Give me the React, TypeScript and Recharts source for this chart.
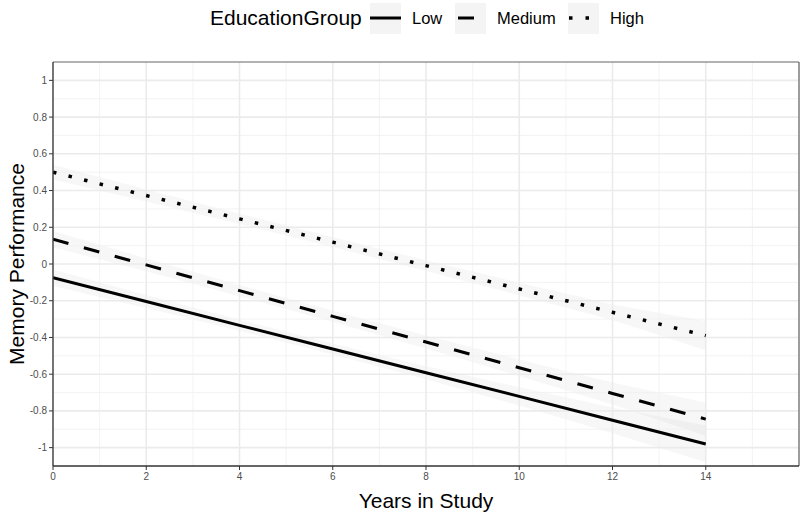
import {
  Area,
  ComposedChart,
  Line,
  ReferenceLine,
  XAxis,
  YAxis,
} from 'recharts';

// values (fitted lines + confidence ribbons)
const years = [0, 2, 4, 6, 8, 10, 12, 14];

const lowFit = [-0.075, -0.204, -0.334, -0.463, -0.592, -0.721, -0.851, -0.98];
const lowLower = [-0.12, -0.24, -0.364, -0.493, -0.627, -0.771, -0.921, -1.08];
const lowUpper = [-0.03, -0.169, -0.304, -0.433, -0.557, -0.671, -0.781, -0.88];

const medFit = [0.135, -0.005, -0.145, -0.285, -0.425, -0.565, -0.705, -0.845];
const medLower = [0.09, -0.04, -0.175, -0.315, -0.46, -0.61, -0.765, -0.935];
const medUpper = [0.18, 0.03, -0.115, -0.255, -0.39, -0.52, -0.645, -0.755];

const highFit = [0.5, 0.373, 0.246, 0.119, -0.009, -0.136, -0.263, -0.39];
const highLower = [0.46, 0.34, 0.218, 0.092, -0.038, -0.17, -0.305, -0.47];
const highUpper = [0.54, 0.406, 0.274, 0.146, 0.02, -0.102, -0.221, -0.31];

const xTicks = [0, 2, 4, 6, 8, 10, 12, 14];
const yTicks = [-1, -0.8, -0.6, -0.4, -0.2, 0, 0.2, 0.4, 0.6, 0.8, 1];
const xMajorGrid = [0, 2, 4, 6, 8, 10, 12, 14, 16];
const xMinorGrid = [1, 3, 5, 7, 9, 11, 13, 15];
const yMinorGrid = [-0.9, -0.7, -0.5, -0.3, -0.1, 0.1, 0.3, 0.5, 0.7, 0.9];

const groups = ['Low', 'Medium', 'High'];

const data = years.map((year, i) => ({
  year,
  low: lowFit[i],
  lowBand: [lowLower[i], lowUpper[i]],
  medium: medFit[i],
  mediumBand: [medLower[i], medUpper[i]],
  high: highFit[i],
  highBand: [highLower[i], highUpper[i]],
}));

const FONT = '"Liberation Sans", Arial, Helvetica, sans-serif';
const tickStyle = { fill: '#4d4d4d', fontSize: 10, fontFamily: FONT };

function fmt(v: number) {
  return String(Number(v.toFixed(1)));
}

function TopLegend() {
  const keyFill = '#f4f4f4';
  const cy = 18;
  return (
    <svg width={800} height={40} style={{ position: 'absolute', left: 0, top: 0 }}>
      <text x={210} y={cy + 7} fontSize={21} fontFamily={FONT} fill="#000">
        EducationGroup
      </text>
      <rect x={370} y={cy - 15} width={31} height={31} fill={keyFill} />
      <line x1={370} x2={401} y1={cy} y2={cy} stroke="#000" strokeWidth={3} />
      <text x={412} y={cy + 6} fontSize={16.5} fontFamily={FONT}>{groups[0]}</text>
      <rect x={455} y={cy - 15} width={31} height={31} fill={keyFill} />
      <line x1={458} x2={486} y1={cy} y2={cy} stroke="#000" strokeWidth={3} strokeDasharray="16 16" />
      <text x={497} y={cy + 6} fontSize={16.5} fontFamily={FONT}>{groups[1]}</text>
      <rect x={568} y={cy - 15} width={31} height={31} fill={keyFill} />
      <line x1={569} x2={599} y1={cy} y2={cy} stroke="#000" strokeWidth={3.5} strokeDasharray="3.5 13" />
      <text x={610} y={cy + 6} fontSize={16.5} fontFamily={FONT}>{groups[2]}</text>
    </svg>
  );
}

function YLabel() {
  return (
    <text
      x={24}
      y={264}
      transform="rotate(-90 24 264)"
      textAnchor="middle"
      fontSize={21}
      fontFamily={FONT}
      fill="#000"
    >
      Memory Performance
    </text>
  );
}

function XLabel() {
  return (
    <text x={426} y={508} textAnchor="middle" fontSize={21} fontFamily={FONT} fill="#000">
      Years in Study
    </text>
  );
}

export default function App() {
  return (
    <div style={{ position: 'absolute', left: 0, top: 0, width: 800, height: 513, background: '#fff' }}>
      <ComposedChart width={800} height={513} data={data} margin={{ top: 62, right: 1, bottom: 0, left: 0 }}>
        {xMinorGrid.map((v) => (
          <ReferenceLine key={'xm' + v} x={v} stroke="#f0f0f0" strokeWidth={0.8} />
        ))}
        {yMinorGrid.map((v) => (
          <ReferenceLine key={'ym' + v} y={v} stroke="#f0f0f0" strokeWidth={0.8} />
        ))}
        {xMajorGrid.map((v) => (
          <ReferenceLine key={'xM' + v} x={v} stroke="#ebebeb" strokeWidth={1.6} />
        ))}
        {yTicks.map((v) => (
          <ReferenceLine key={'yM' + v} y={v} stroke="#ebebeb" strokeWidth={1.6} />
        ))}
        <XAxis
          dataKey="year"
          type="number"
          domain={[0, 16]}
          ticks={xTicks}
          allowDataOverflow
          height={47}
          tick={tickStyle}
          tickSize={4}
          tickMargin={3}
          tickLine={{ stroke: '#333' }}
          axisLine={{ stroke: '#333', strokeWidth: 1.3 }}
          label={<XLabel />}
        />
        <YAxis
          type="number"
          domain={[-1.1, 1.1]}
          ticks={yTicks}
          allowDataOverflow
          width={53}
          tick={tickStyle}
          tickFormatter={fmt}
          tickSize={4}
          tickMargin={2}
          tickLine={{ stroke: '#333' }}
          axisLine={{ stroke: '#333', strokeWidth: 1.3 }}
          label={<YLabel />}
        />
        <ReferenceLine y={1.1} stroke="#666" strokeWidth={1.2} />
        <ReferenceLine x={16} stroke="#666" strokeWidth={1.2} />
        <Area dataKey="lowBand" type="linear" stroke="none" fill="#999" fillOpacity={0.08} isAnimationActive={false} />
        <Area dataKey="mediumBand" type="linear" stroke="none" fill="#999" fillOpacity={0.08} isAnimationActive={false} />
        <Area dataKey="highBand" type="linear" stroke="none" fill="#999" fillOpacity={0.08} isAnimationActive={false} />
        <Line dataKey="low" name="Low" type="linear" stroke="#000" strokeWidth={3} dot={false} isAnimationActive={false} />
        <Line dataKey="medium" name="Medium" type="linear" stroke="#000" strokeWidth={3} strokeDasharray="16 16" dot={false} isAnimationActive={false} />
        <Line dataKey="high" name="High" type="linear" stroke="#000" strokeWidth={3.5} strokeDasharray="3.5 12.5" dot={false} isAnimationActive={false} />
      </ComposedChart>
      <TopLegend />
    </div>
  );
}
